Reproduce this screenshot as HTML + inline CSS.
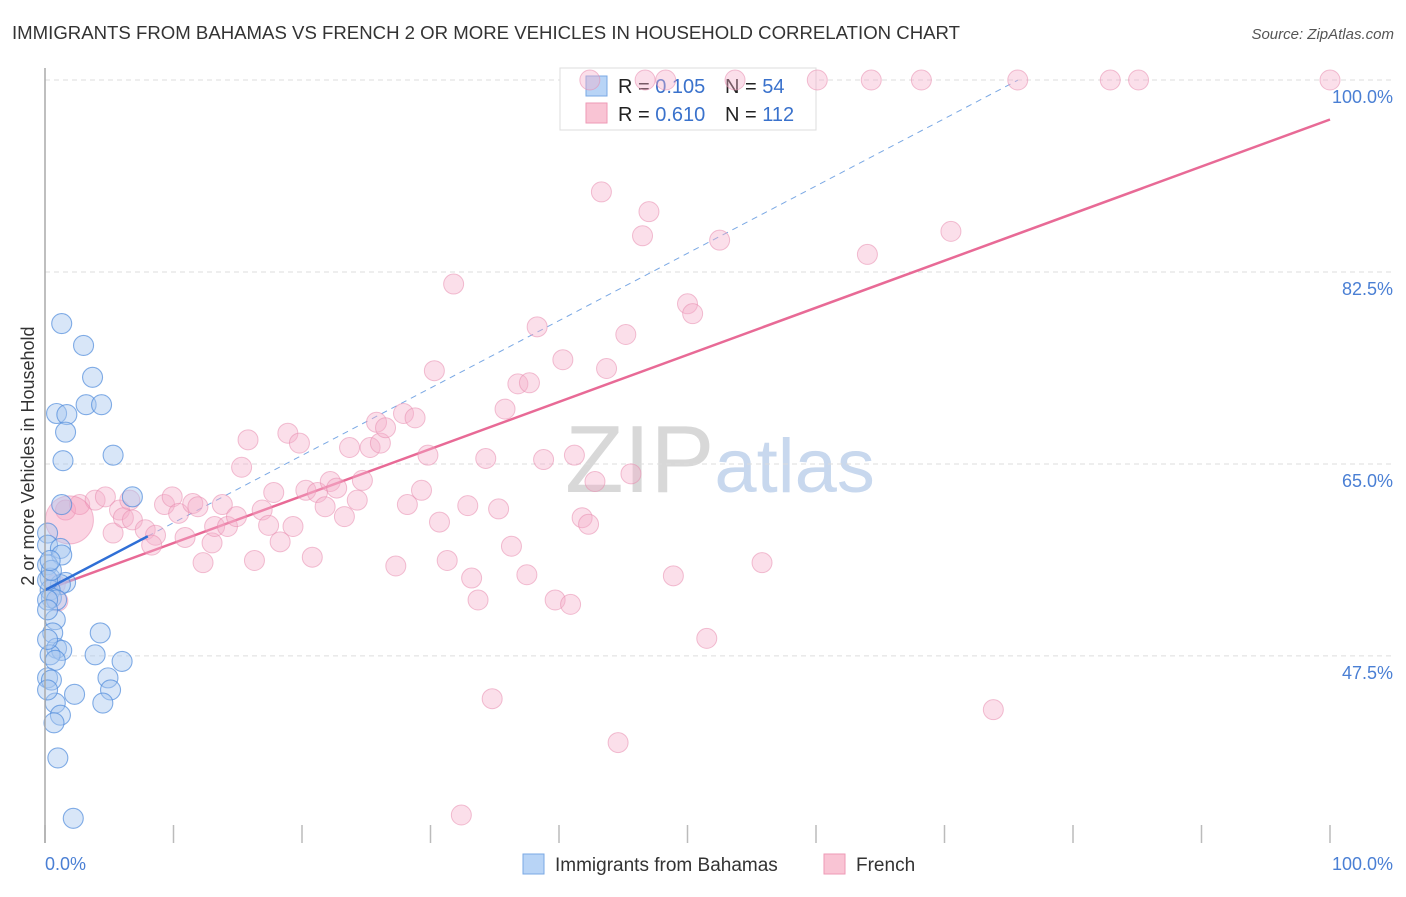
<!DOCTYPE html>
<html><head><meta charset="utf-8"><style>
body{margin:0;background:#fff;font-family:"Liberation Sans",sans-serif}
svg text{font-family:"Liberation Sans",sans-serif}
</style></head><body>
<svg id="chart" width="1406" height="892" xmlns="http://www.w3.org/2000/svg">
<text x="12" y="39" font-size="18" fill="#333" textLength="948" lengthAdjust="spacingAndGlyphs">IMMIGRANTS FROM BAHAMAS VS FRENCH 2 OR MORE VEHICLES IN HOUSEHOLD CORRELATION CHART</text>
<text x="1394" y="39" font-size="15" fill="#555" text-anchor="end" font-style="italic">Source: ZipAtlas.com</text>
<text x="720" y="492" font-size="96" text-anchor="middle" fill="#ddd" font-family="Liberation Serif"><tspan fill="#d8d8d8">ZIP</tspan><tspan fill="#c8d8ee" font-family="Liberation Sans" font-size="76">atlas</tspan></text>
<g id="grid"></g><g id="ticks"></g><g id="lines"></g>
<g>
<rect x="560" y="68" width="256" height="62" fill="#fff" stroke="#ddd"/>
<rect x="586" y="76" width="21" height="20" fill="#b8d4f6" stroke="#7aa8e4"/>
<rect x="586" y="103" width="21" height="20" fill="#f9c4d4" stroke="#ee9ab6"/>
<text x="618" y="93" font-size="20" fill="#222">R = <tspan fill="#3a72cc">0.105</tspan></text>
<text x="725" y="93" font-size="20" fill="#222">N = <tspan fill="#3a72cc"> 54</tspan></text>
<text x="618" y="121" font-size="20" fill="#222">R = <tspan fill="#3a72cc">0.610</tspan></text>
<text x="725" y="121" font-size="20" fill="#222">N = <tspan fill="#3a72cc">112</tspan></text>
</g>
<g id="pts"></g>
<line x1="45" y1="68" x2="45" y2="843" stroke="#aaa" stroke-width="1.5"/>
<text transform="translate(34,456) rotate(-90)" font-size="18" fill="#333" text-anchor="middle">2 or more Vehicles in Household</text>
<text x="45" y="870" font-size="18" fill="#4a7fd4">0.0%</text>
<text x="1393" y="870" font-size="18" fill="#4a7fd4" text-anchor="end">100.0%</text>
<g>
<rect x="523" y="854" width="21" height="20" fill="#b8d4f6" stroke="#7aa8e4"/>
<text x="555" y="871" font-size="19" fill="#333">Immigrants from Bahamas</text>
<rect x="824" y="854" width="21" height="20" fill="#f9c4d4" stroke="#ee9ab6"/>
<text x="856" y="871" font-size="19" fill="#333">French</text>
</g>
</svg>
<script>
const yTicks=[100,82.5,65,47.5];
const yTickLabels=["100.0%","82.5%","65.0%","47.5%"];
const xTicks=[0,10,20,30,40,50,60,70,80,90,100];
const blueX=[1.3,3.0,3.7,3.2,4.4,0.9,1.7,1.6,1.4,5.3,6.8,1.3,0.2,0.2,1.2,1.3,0.2,0.4,1.6,1.2,0.4,0.5,0.9,0.8,0.6,4.3,0.9,1.3,0.4,3.9,6.0,0.8,0.2,0.5,4.9,5.1,2.3,4.5,0.8,1.2,0.7,1.0,2.2,0.2,0.2,0.2,0.2,0.5,0.4,0.2];
const blueY=[77.8,75.8,72.9,70.4,70.4,69.6,69.5,67.9,65.3,65.8,62.0,61.3,58.7,57.6,57.3,56.7,55.8,54.6,54.2,54.0,53.5,52.8,52.6,50.8,49.6,49.6,48.2,48.0,47.6,47.6,47.0,47.1,45.5,45.3,45.5,44.4,44.0,43.2,43.2,42.1,41.4,38.2,32.7,52.6,51.7,49.0,54.4,55.3,56.2,44.4];
const pinkX=[1.6,2.7,3.9,4.7,5.8,6.6,5.3,6.1,6.8,7.8,8.6,8.3,9.3,9.9,10.4,10.9,11.5,11.9,12.3,13.0,13.2,13.8,14.2,14.9,15.3,15.8,16.3,16.9,17.4,17.8,18.3,18.9,19.3,19.8,20.3,20.8,21.2,21.8,22.2,22.7,23.3,23.7,24.3,24.7,25.3,25.8,26.1,26.5,27.3,27.9,28.2,28.8,29.3,29.8,30.3,30.7,31.3,31.8,32.9,33.2,33.7,34.3,34.8,35.3,35.8,36.3,36.8,37.5,38.3,38.8,39.7,40.3,40.9,41.2,41.8,42.3,42.8,43.3,43.7,44.6,45.2,45.6,46.5,47.0,48.9,50.0,50.4,51.5,52.5,55.8,64.0,70.5,73.8,32.4,42.4,46.7,48.3,53.7,60.1,64.3,68.2,75.7,82.9,85.1,100,37.7,0.8,1.0];
const pinkY=[60.8,61.3,61.7,62.0,60.8,61.7,58.7,60.1,59.9,59.0,58.5,57.6,61.3,62.0,60.5,58.3,61.4,61.1,56.0,57.8,59.3,61.3,59.3,60.2,64.7,67.2,56.2,60.8,59.4,62.4,57.9,67.8,59.3,66.9,62.6,56.5,62.4,61.1,63.4,62.8,60.2,66.5,61.7,63.5,66.5,68.8,66.9,68.3,55.7,69.6,61.3,69.2,62.6,65.8,73.5,59.7,56.2,81.4,61.2,54.6,52.6,65.5,43.6,60.9,70.0,57.5,72.3,54.9,77.5,65.4,52.6,74.5,52.2,65.8,60.1,59.5,63.4,89.8,73.7,39.6,76.8,64.1,85.8,88.0,54.8,79.6,78.7,49.1,85.4,56.0,84.1,86.2,42.6,33.0,100,100,100,100,100,100,100,100,100,100,100,72.4,54.0,52.5];
const blueFit=[53.5,0.614];
const pinkFit=[53.5,0.429];
const NS="http://www.w3.org/2000/svg";
const xs=v=>45+v*12.85, ys=v=>80+(100-v)*10.97;
function mk(tag,attrs,parent){const e=document.createElementNS(NS,tag);for(const k in attrs)e.setAttribute(k,attrs[k]);document.getElementById(parent).appendChild(e);return e;}
yTicks.forEach((t,i)=>{
 const l=mk('line',{x1:45,x2:1393,y1:ys(t),y2:ys(t),stroke:'#ddd','stroke-dasharray':'5,4'},'grid');
 
 
 const tx=mk('text',{x:1393,y:ys(t)+23,'font-size':18,fill:'#4a7fd4','text-anchor':'end'},'grid');
 tx.textContent=yTickLabels[i];
 
 
});
xTicks.forEach(t=>{
 const l=mk('line',{x1:xs(t),x2:xs(t),y1:825,y2:843,stroke:'#bbb','stroke-width':1.5},'ticks');
 
 
});
let e=mk('line',{x1:xs(8),y1:ys(blueFit[0]+blueFit[1]*8),x2:xs(75.7),y2:ys(blueFit[0]+blueFit[1]*75.7),stroke:'#7aa8e4','stroke-width':1,'stroke-dasharray':'6,5'},'lines');


e=mk('line',{x1:xs(0),y1:ys(pinkFit[0]),x2:xs(100),y2:ys(pinkFit[0]+pinkFit[1]*100),stroke:'#e86a96','stroke-width':2.5},'lines');


pinkX.forEach((x,i)=>{
 const c=mk('circle',{cx:xs(x),cy:ys(pinkY[i]),r:10,fill:'rgba(246,176,202,0.4)',stroke:'rgba(232,140,175,0.55)','stroke-width':1},'pts');
 
 
});
let big=mk('circle',{cx:xs(1.9),cy:ys(59.9),r:24,fill:'rgba(244,150,185,0.4)',stroke:'rgba(232,130,170,0.5)'},'pts');


blueX.forEach((x,i)=>{
 const c=mk('circle',{cx:xs(x),cy:ys(blueY[i]),r:10,fill:'rgba(168,200,240,0.45)',stroke:'rgba(80,140,220,0.7)','stroke-width':1.1},'pts');
 
 
});
e=mk('line',{x1:xs(0),y1:ys(blueFit[0]),x2:xs(8),y2:ys(blueFit[0]+blueFit[1]*8),stroke:'#2f6fd6','stroke-width':2.5},'pts');


</script>
</body></html>
